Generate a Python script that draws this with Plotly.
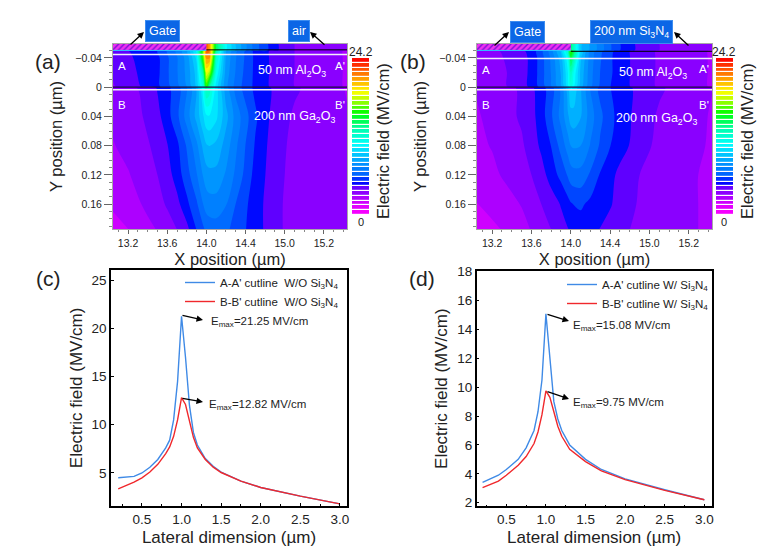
import plotly.graph_objects as go

# the page body keeps an 8 px margin, so the figure is 8 px smaller and coordinates are shifted
W, H = 775, 551
PAD = 8
FW, FH = W - PAD, H - PAD

# contour grid shared by (a) and (b)
x_cols = [13.04, 13.2, 13.35, 13.5, 13.6, 13.7, 13.8, 13.9, 13.97, 14.0, 14.03, 14.1, 14.2, 14.3, 14.4, 14.5, 14.7, 14.9, 15.2, 15.44]
y_rows = [-0.06, -0.0505, -0.0495, -0.04, -0.02, -0.001, 0.001, 0.04, 0.08, 0.12, 0.16, 0.195]

field_a = [
    [5, 5, 5, 5, 5, 5, 5, 5, 5, 22, 21, 14, 10.5, 8.8, 7.5, 6.2, 4.6, 3.7, 3.2, 3.0],
    [5, 5, 5, 5, 5, 5, 5, 5, 5, 22, 21, 14, 10.5, 8.8, 7.5, 6.2, 4.6, 3.7, 3.2, 3.0],
    [3.9, 4.4, 4.8, 5.2, 6.0, 6.8, 8.0, 10.5, 17, 22, 21.5, 13, 8.2, 6.8, 5.8, 5.0, 4.2, 3.7, 3.2, 2.9],
    [3.8, 4.3, 4.7, 5.0, 5.8, 6.6, 7.7, 9.8, 16.5, 21, 21, 12, 8.0, 6.7, 5.8, 5.0, 4.2, 3.7, 3.2, 2.9],
    [3.7, 4.2, 4.6, 5.0, 5.8, 6.6, 7.6, 9.2, 13.5, 18.5, 17.5, 11, 7.8, 6.6, 5.7, 5.0, 4.2, 3.7, 3.2, 2.9],
    [3.6, 4.1, 4.5, 5.0, 5.7, 6.4, 7.4, 9.0, 11.5, 15.5, 13, 10, 7.6, 6.4, 5.6, 5.0, 4.2, 3.7, 3.2, 2.9],
    [3.2, 3.4, 3.9, 4.5, 5.0, 5.6, 6.6, 8.3, 11.0, 12.8, 12.4, 10.0, 7.7, 6.4, 5.6, 5.0, 4.3, 3.8, 3.3, 2.9],
    [3.1, 3.4, 3.7, 4.2, 4.9, 5.7, 7.0, 8.4, 9.6, 10.2, 10.3, 9.8, 8.4, 7.1, 6.2, 5.3, 4.1, 3.6, 3.2, 3.0],
    [2.9, 3.2, 3.5, 3.9, 4.4, 5.0, 6.0, 7.2, 8.4, 8.8, 8.9, 8.7, 7.8, 6.8, 5.9, 5.1, 4.0, 3.5, 3.2, 3.0],
    [2.6, 2.9, 3.3, 3.7, 4.1, 4.8, 5.6, 6.6, 7.5, 7.8, 7.9, 7.9, 7.3, 6.5, 5.7, 4.9, 4.0, 3.4, 3.1, 3.0],
    [2.3, 2.6, 3.0, 3.4, 3.8, 4.2, 5.0, 5.8, 6.7, 7.0, 7.1, 7.1, 6.7, 5.9, 5.3, 4.8, 3.9, 3.4, 3.1, 3.0],
    [2.0, 2.2, 2.6, 3.0, 3.3, 3.7, 4.2, 5.2, 5.8, 6.1, 6.2, 6.3, 6.1, 5.6, 5.2, 4.8, 3.9, 3.4, 3.2, 3.1],
]

field_b = [
    [5, 5, 5, 5, 5, 5, 5, 5, 5, 14, 12.5, 9, 8, 7, 6, 5.2, 4.2, 3.7, 3.2, 3.0],
    [5, 5, 5, 5, 5, 5, 5, 5, 5, 14, 12.5, 9, 8, 7, 6, 5.2, 4.2, 3.7, 3.2, 3.0],
    [3.3, 3.5, 3.9, 4.3, 4.7, 5.7, 7.0, 9.0, 12, 16, 14, 9.5, 7.1, 6.1, 5.4, 4.8, 4.1, 3.6, 3.2, 2.9],
    [3.2, 3.4, 3.8, 4.2, 4.6, 5.6, 6.8, 8.5, 11, 14.5, 13, 9.0, 7.0, 6.0, 5.3, 4.8, 4.1, 3.6, 3.2, 2.9],
    [3.2, 3.4, 3.7, 4.2, 4.6, 5.6, 6.7, 8.2, 10.3, 12.5, 11, 8.7, 6.9, 5.9, 5.3, 4.8, 4.1, 3.6, 3.2, 2.9],
    [3.1, 3.4, 3.7, 4.2, 4.6, 5.5, 6.6, 8.0, 10, 11.5, 10.5, 8.5, 6.8, 5.8, 5.2, 4.8, 4.1, 3.6, 3.2, 2.9],
    [3.0, 3.05, 3.4, 3.9, 4.3, 4.9, 5.6, 6.9, 8.8, 9.75, 9.5, 8.3, 6.6, 5.7, 5.2, 4.85, 4.2, 3.8, 3.3, 2.95],
    [2.9, 3.1, 3.5, 3.8, 4.2, 4.8, 5.8, 6.9, 8.0, 8.5, 8.6, 8.2, 7.0, 6.1, 5.4, 4.9, 4.1, 3.6, 3.2, 2.9],
    [2.8, 3.0, 3.3, 3.6, 4.0, 4.6, 5.2, 6.2, 7.0, 7.4, 7.5, 7.4, 6.6, 5.8, 5.2, 4.8, 4.0, 3.5, 3.1, 2.9],
    [2.5, 2.8, 3.1, 3.4, 3.7, 4.1, 4.8, 5.4, 6.0, 6.3, 6.4, 6.4, 5.8, 5.1, 4.7, 4.2, 3.7, 3.3, 3.0, 2.9],
    [2.2, 2.4, 2.7, 3.0, 3.4, 3.7, 4.0, 4.5, 4.9, 5.1, 5.2, 5.3, 5.0, 4.8, 4.5, 4.2, 3.6, 3.3, 3.0, 2.9],
    [2.0, 2.1, 2.3, 2.7, 3.0, 3.3, 3.7, 4.1, 4.4, 4.5, 4.6, 4.8, 4.7, 4.4, 4.2, 3.9, 3.5, 3.2, 3.0, 2.9],
]

bar_levels = [0.37, 1.11, 1.85, 2.59, 3.33, 4.07, 4.81, 5.55, 6.29, 7.03, 7.77, 8.51, 9.25, 9.99, 10.73, 11.47, 12.21,
              12.95, 13.69, 14.43, 15.17, 15.91, 16.65, 17.39, 18.13, 18.87, 19.61, 20.35, 21.09, 21.83, 22.57, 23.31, 24.05]

rainbow = [
    [0, "rgb(255,0,255)"], [0.08, "rgb(205,0,255)"], [0.13, "rgb(150,0,255)"], [0.17, "rgb(105,0,255)"],
    [0.19, "rgb(0,0,255)"], [0.22, "rgb(0,20,255)"], [0.24, "rgb(0,90,255)"], [0.33, "rgb(0,150,255)"],
    [0.45, "rgb(0,255,255)"], [0.55, "rgb(0,255,170)"], [0.65, "rgb(0,255,0)"], [0.75, "rgb(200,255,0)"],
    [0.79, "rgb(255,255,0)"], [0.88, "rgb(255,150,0)"], [1, "rgb(255,0,0)"],
]

# cutlines (c)
lateral_c = [0.2, 0.3, 0.4, 0.5, 0.6, 0.7, 0.8, 0.85, 0.9, 0.95, 1.0, 1.05, 1.1, 1.15, 1.2, 1.3, 1.4, 1.5, 1.75, 2.0, 2.5, 3.0]
aa_c = [4.5, 4.55, 4.65, 5.0, 5.6, 6.4, 7.6, 8.4, 10.5, 14.5, 21.25, 17, 12, 9.2, 7.9, 6.5, 5.7, 5.1, 4.15, 3.5, 2.6, 1.8]
bb_c = [3.35, 3.7, 4.05, 4.5, 5.1, 5.9, 7.0, 7.7, 8.8, 10.5, 12.82, 12.1, 10.4, 8.7, 7.6, 6.4, 5.6, 5.05, 4.15, 3.5, 2.6, 1.8]

# cutlines (d)
lateral_d = [0.2, 0.4, 0.5, 0.65, 0.75, 0.85, 0.9, 0.95, 1.0, 1.05, 1.1, 1.15, 1.2, 1.3, 1.5, 1.7, 2.0, 2.5, 3.0]
aa_d = [3.4, 3.9, 4.3, 5.0, 5.8, 7.0, 8.3, 10.5, 15.08, 12, 9.0, 7.8, 7.0, 6.0, 5.0, 4.3, 3.65, 2.9, 2.2]
bb_d = [3.05, 3.5, 3.9, 4.6, 5.2, 6.1, 6.9, 8.1, 9.75, 9.3, 8.3, 7.3, 6.6, 5.7, 4.85, 4.2, 3.6, 2.85, 2.2]

x_ticks = [13.2, 13.6, 14.0, 14.4, 14.8, 15.2]
x_ticktext = ["13.2", "13.6", "14.0", "14.4", "15.0", "15.2"]
y_ticks = [-0.04, 0, 0.04, 0.08, 0.12, 0.16]
y_ticktext = ["\u22120.04", "0", "0.04", "0.08", "0.12", "0.16"]

gate_x = [13.04, 14.0, 14.0, 13.04]
gate_y = [-0.06, -0.06, -0.0505, -0.0505]

FONT = "Liberation Sans"
INK = "#222222"


def xdom(left, right):
    return [(left - PAD) / FW, (right - PAD) / FW]


def ydom(top, bottom):
    return [1 - (bottom - PAD) / FH, 1 - (top - PAD) / FH]


def note(x, y, text, size=11, color=INK, xanchor="center", **kw):
    return dict(x=(x - PAD) / FW, y=1 - (y - PAD) / FH, xref="paper", yref="paper", text=text, showarrow=False,
                xanchor=xanchor, yanchor="middle", font=dict(family=FONT, size=size, color=color), **kw)


def box(x, y, text):
    return note(x, y, text, size=12.5, color="white", bgcolor="#0b66e6", borderpad=3,
                bordercolor="#3d8df0", borderwidth=1)


def arrow(x0, y0, x1, y1):
    return dict(x=(x1 - PAD) / FW, y=1 - (y1 - PAD) / FH, xref="paper", yref="paper", ax=x0 - x1, ay=y0 - y1, text="",
                xanchor="center", yanchor="middle", showarrow=True, arrowhead=2, arrowsize=1, arrowwidth=1.3, arrowcolor="black")


fig = go.Figure()

# field maps and their overlays
for n, field, black_y, white_y in [("", field_a, -0.051, -0.0445), ("2", field_b, -0.049, -0.039)]:
    xa, ya = "x" + n, "y" + n
    fig.add_trace(go.Contour(x=x_cols, y=y_rows, z=field, xaxis=xa, yaxis=ya, colorscale=rainbow, zmin=0, zmax=24.2,
                             contours=dict(start=0, end=24.2, size=0.74, coloring="fill"),
                             line=dict(width=0), showscale=False, hoverinfo="skip"))
    fig.add_trace(go.Scatter(x=gate_x, y=gate_y, xaxis=xa, yaxis=ya, mode="lines", fill="toself", line=dict(width=0),
                             fillcolor="#ff33ff", fillpattern=dict(shape="/", fgcolor="#7a10d8", bgcolor="#f030f0", size=4, solidity=0.35),
                             showlegend=False, hoverinfo="skip"))
    fig.add_trace(go.Scatter(x=[13.04, 14.0], y=[-0.0502, -0.0502], xaxis=xa, yaxis=ya, mode="lines",
                             line=dict(color="#30c8ff", width=1), showlegend=False))
    fig.add_trace(go.Scatter(x=[14.0, 15.44], y=[black_y, black_y], xaxis=xa, yaxis=ya, mode="lines",
                             line=dict(color="black", width=1), showlegend=False))
    fig.add_trace(go.Scatter(x=[13.04, 15.44], y=[white_y, white_y], xaxis=xa, yaxis=ya, mode="lines",
                             line=dict(color="#f4eefc", width=1.5), showlegend=False))
    fig.add_trace(go.Scatter(x=[13.04, 15.44], y=[0, 0], xaxis=xa, yaxis=ya, mode="lines",
                             line=dict(color="#1a0a40", width=1.2), showlegend=False))
    fig.add_trace(go.Scatter(x=[13.04, 15.44], y=[0.0035, 0.0035], xaxis=xa, yaxis=ya, mode="lines",
                             line=dict(color="#f4eefc", width=1.5), showlegend=False))

# stepped colour keys
for n in ["3", "4"]:
    fig.add_trace(go.Heatmap(x=[0], y=bar_levels, z=[[v] for v in bar_levels], xaxis="x" + n, yaxis="y" + n,
                             colorscale=rainbow, zmin=0, zmax=24.2, ygap=1.2, showscale=False, hoverinfo="skip"))

# cutlines
BLUE, RED = "#3f8ae6", "#f0282c"
for n, leg, lat, aa, bb, suffix in [("5", "legend", lateral_c, aa_c, bb_c, "  W/O Si<sub>3</sub>N<sub>4</sub>"),
                                    ("6", "legend2", lateral_d, aa_d, bb_d, " W/ Si<sub>3</sub>N<sub>4</sub>")]:
    fig.add_trace(go.Scatter(x=lat, y=aa, xaxis="x" + n, yaxis="y" + n, mode="lines", legend=leg,
                             name="A-A' cutline" + suffix, line=dict(color=BLUE, width=1.4)))
    fig.add_trace(go.Scatter(x=lat, y=bb, xaxis="x" + n, yaxis="y" + n, mode="lines", legend=leg,
                             name="B-B' cutline" + suffix, line=dict(color=RED, width=1.4)))

map_x = dict(automargin=False, tickvals=x_ticks, ticktext=x_ticktext, ticks="outside", ticklen=4, tickcolor="#666666", range=[13.046, 15.436],
             tickfont=dict(family=FONT, size=10.5, color=INK), showgrid=False, zeroline=False, showline=True, mirror=True,
             linecolor="#a8a8a8", linewidth=1, minor=dict(dtick=0.1, tick0=13.2, ticks="outside", ticklen=2, tickcolor="#888888"),
             title=dict(text="X position (\u00b5m)", font=dict(family=FONT, size=16.5, color=INK), standoff=5))
map_y = dict(automargin=False, tickvals=y_ticks, ticktext=y_ticktext, ticks="outside", ticklen=8, tickcolor="#666666", range=[0.194, -0.059],
             tickfont=dict(family=FONT, size=10.5, color=INK), showgrid=False, zeroline=False, showline=True, mirror=True,
             linecolor="#a8a8a8", linewidth=1, minor=dict(dtick=0.01, tick0=0, ticks="outside", ticklen=3, tickcolor="#888888"),
             title=dict(text="Y position (\u00b5m)", font=dict(family=FONT, size=16.5, color=INK), standoff=8))


def line_x():
    return dict(automargin=False, tickvals=[0.5, 1, 1.5, 2, 2.5, 3], ticktext=["0.5", "1.0", "1.5", "2.0", "2.5", "3.0"], ticks="inside", ticklen=3,
                tickcolor="black", tickwidth=1.2, tickfont=dict(family=FONT, size=13.5, color=INK), showgrid=False, zeroline=False,
                showline=True, mirror=True, linecolor="black", linewidth=1.5,
                minor=dict(dtick=0.25, tick0=0.25, ticks="inside", ticklen=2, tickcolor="black"),
                title=dict(text="Lateral dimension (\u00b5m)", font=dict(family=FONT, size=17, color=INK), standoff=5))


def line_y(vals):
    return dict(automargin=False, tickvals=vals, ticks="inside", ticklen=3, tickcolor="black", tickwidth=1.2,
                tickfont=dict(family=FONT, size=13.5, color=INK), showgrid=False, zeroline=False, showline=True, mirror=True,
                linecolor="black", linewidth=1.5, title=dict(text="Electric field (MV/cm)", font=dict(family=FONT, size=17, color=INK), standoff=5))


hidden = dict(automargin=False, visible=False, showgrid=False, zeroline=False)

notes = [
    note(48, 62, "(a)", 21), note(413, 62, "(b)", 21), note(48, 279, "(c)", 21), note(422, 279, "(d)", 21),
    box(162.5, 31, "Gate"), box(298.5, 31, "air"), box(527, 31.5, "Gate"), box(631, 32, "200 nm Si<sub>3</sub>N<sub>4</sub>"),
    arrow(129, 46, 144, 32), arrow(326, 46, 310, 32), arrow(493, 47, 509, 32), arrow(690, 47, 674, 32),
    note(361, 52, "24.2", 12), note(361, 222, "0", 11), note(724, 52, "24.2", 12), note(724, 222, "0", 11),
    note(383, 141, "Electric field (MV/cm)", 16.5, textangle=-90), note(747, 141, "Electric field (MV/cm)", 16.5, textangle=-90),
]
for x0 in [0, 364]:
    notes += [note(121.7 + x0, 66 + (4 if x0 else 0), "A", 11.5, "white"), note(340 + x0, 66 + (3 if x0 else 0), "A'", 11.5, "white"),
              note(121.7 + x0, 105, "B", 11.5, "white"), note(340 + x0, 105, "B'", 11.5, "white")]
notes += [
    note(292, 71, "50 nm Al<sub>2</sub>O<sub>3</sub>", 12.5, "white"), note(294, 117, "200 nm Ga<sub>2</sub>O<sub>3</sub>", 12.5, "white"),
    note(653, 73, "50 nm Al<sub>2</sub>O<sub>3</sub>", 12.5, "white"), note(656, 119, "200 nm Ga<sub>2</sub>O<sub>3</sub>", 12.5, "white"),
    arrow(181, 315, 203, 320), arrow(181, 398, 203, 402), arrow(546, 314, 569, 321), arrow(546, 391, 569, 399),
    note(209, 322, "E<sub>max</sub>=21.25 MV/cm", 11.5, xanchor="left"), note(207, 405, "E<sub>max</sub>=12.82 MV/cm", 11.5, xanchor="left"),
    note(571, 326, "E<sub>max</sub>=15.08 MV/cm", 11.5, xanchor="left"), note(571, 403, "E<sub>max</sub>=9.75 MV/cm", 11.5, xanchor="left"),
]

legend_style = dict(bgcolor="rgba(0,0,0,0)", borderwidth=0, font=dict(family=FONT, size=11.5, color=INK), tracegroupgap=0,
                    itemwidth=30, xanchor="right", yanchor="top")

fig.update_layout(
    template="none", width=FW, height=FH, margin=dict(l=0, r=0, t=0, b=0), paper_bgcolor="white", plot_bgcolor="white",
    font=dict(family=FONT), annotations=notes,
    xaxis=dict(map_x, domain=xdom(113, 347), anchor="y"),
    yaxis=dict(map_y, domain=ydom(44, 229), anchor="x"),
    xaxis2=dict(map_x, domain=xdom(477, 712), anchor="y2"),
    yaxis2=dict(map_y, domain=ydom(44, 229), anchor="x2"),
    xaxis3=dict(hidden, domain=xdom(352, 369), anchor="y3"),
    yaxis3=dict(hidden, domain=ydom(58, 215), anchor="x3", range=[0, 24.42]),
    xaxis4=dict(hidden, domain=xdom(716, 733), anchor="y4"),
    yaxis4=dict(hidden, domain=ydom(58, 215), anchor="x4", range=[0, 24.42]),
    xaxis5=dict(line_x(), domain=xdom(111, 347), anchor="y5", range=[0.109, 3.09]),
    yaxis5=dict(line_y([5, 10, 15, 20, 25]), domain=ydom(270, 505.7), anchor="x5", range=[1.61, 26.04]),
    xaxis6=dict(line_x(), domain=xdom(476.7, 711.7), anchor="y6", range=[0.126, 3.093]),
    yaxis6=dict(line_y([2, 4, 6, 8, 10, 12, 14, 16, 18]), domain=ydom(271, 506.3), anchor="x6", range=[1.75, 18.05]),
    legend=dict(legend_style, x=(344 - PAD) / FW, y=1 - (268 - PAD) / FH),
    legend2=dict(legend_style, x=(714 - PAD) / FW, y=1 - (270 - PAD) / FH),
)

fig.write_html("out.html")
